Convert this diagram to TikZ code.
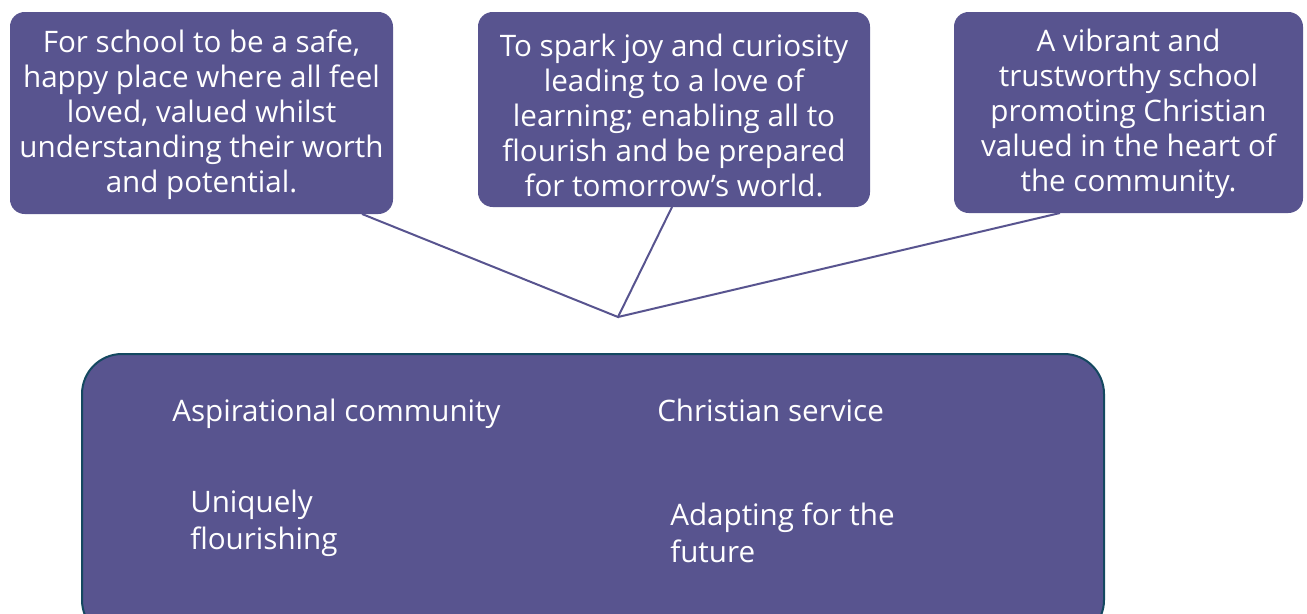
\documentclass[tikz,border=0pt]{standalone}
\usepackage{fontspec}
\setmainfont{Open Sans}
\definecolor{boxfill}{RGB}{88,84,143}
\definecolor{outline}{RGB}{20,72,96}
\begin{document}
\begin{tikzpicture}[x=0.75pt,y=-0.75pt,
  bubble/.style={fill=boxfill, rounded corners=11pt},
  btext/.style={text=white, align=center, font=\fontsize{22.2}{26.2}\selectfont, inner sep=0pt},
  itext/.style={text=white, align=left, font=\fontsize{22.2}{28}\selectfont, inner sep=0pt, anchor=west},
  link/.style={draw=boxfill, line width=1.5pt}]
\useasboundingbox (0,0) rectangle (1307,614);
\clip (0,0) rectangle (1307,614);
% callout boxes
\path[bubble] (10,12) rectangle (393,214);
\path[bubble] (478,12) rectangle (870,207);
\path[bubble] (954,12) rectangle (1303,213);
\node[btext] (t1) at (201.5,115) {For school to be a safe,\\happy place where all feel\\loved, valued whilst\\understanding their worth\\and potential.};
\node[btext] (t2) at (674,115.5) {To spark joy and curiosity\\leading to a love of\\learning; enabling all to\\flourish and be prepared\\for tomorrow’s world.};
\node[btext] (t3) at (1128.5,114) {A vibrant and\\trustworthy school\\promoting Christian\\valued in the heart of\\the community.};
% connector anchors
\coordinate (a1) at (362,214);
\coordinate (a2) at (672,207);
\coordinate (a3) at (1060,213);
\coordinate (m) at (618,317);
\draw[link] (a1) -- (m) -- (a2);
\draw[link] (a3) -- (m);
% bottom box
\draw[fill=boxfill, draw=outline, line width=1.5pt, rounded corners=30pt] (82,354) rectangle (1104,640);
\node[itext, anchor=base west] (c1) at (172,421) {Aspirational community};
\node[itext, anchor=base west] (c2) at (657,421) {Christian service};
\node[itext] (c3) at (190,523) {Uniquely\\flourishing};
\node[itext] (c4) at (670,533) {Adapting for the\\future};
\end{tikzpicture}
\end{document}
